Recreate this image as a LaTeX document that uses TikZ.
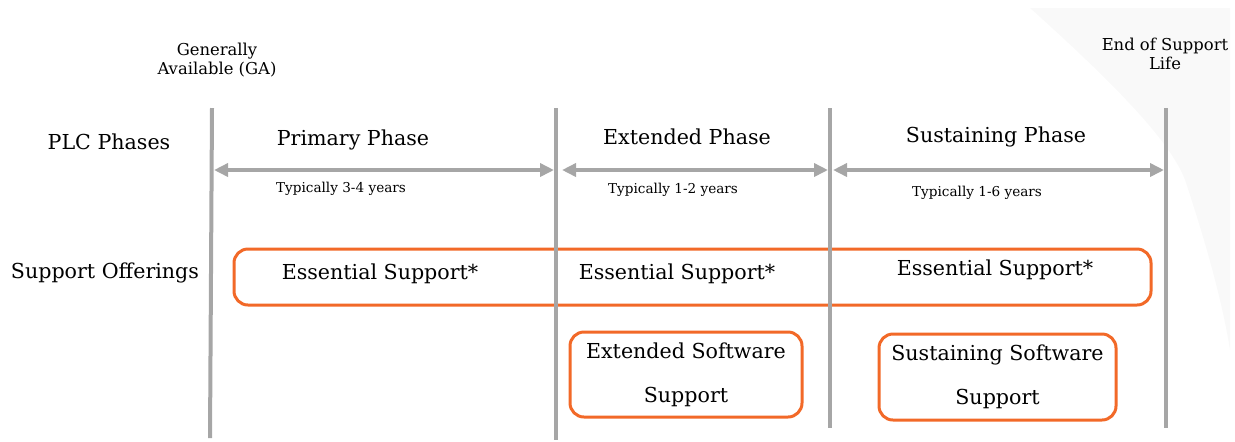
\documentclass[tikz,border=0pt]{standalone}
\usepackage{fontspec}
\setmainfont{DejaVu Serif}
\usepackage{tikz}
\usetikzlibrary{arrows.meta}
\usetikzlibrary{fit}

\definecolor{phasegray}{RGB}{166,166,166}
\definecolor{offerorange}{RGB}{242,105,40}
\definecolor{shadegray}{RGB}{249,249,249}

\tikzset{
	phaseline/.style = {draw=phasegray, line width=2pt},
	phasearrow/.style = {draw=phasegray, line width=2pt,
		{Triangle[length=7pt, width=6.5pt]}-{Triangle[length=7pt, width=6.5pt]}},
	offerbox/.style = {draw=offerorange, line width=1.5pt, rounded corners=7pt,
		fill=white, align=center},
	biglabel/.style = {font=\fontsize{10.3}{12}\selectfont},
	smalllabel/.style = {font=\fontsize{6.8}{8}\selectfont},
	marklabel/.style = {font=\fontsize{8.2}{9.8}\selectfont, align=center}
}

\begin{document}
\begin{tikzpicture}[x=0.5pt, y=-0.5pt]
				\useasboundingbox (0,0) rectangle (1235,441);
				% faint backdrop on the right
				\fill[shadegray] (1030,8) .. controls (1110,80) and (1170,140) .. (1185,180)
					.. controls (1205,240) and (1222,300) .. (1230,350) -- (1230,8) -- cycle;

				\begin{scope}[every node/.style = {marklabel}]
					\node (GA) at (217,60) {Generally\\Available (GA)};
					\node (EOS) at (1165,54) {End of Support\\Life};
				\end{scope}

				\begin{scope}[every node/.style = {biglabel}]
					\node (PLC) at (109,142) {PLC Phases};
					\node (SO) at (105,273) {Support Offerings};
					\node (P1) at (353,140) {Primary Phase};
					\node (P2) at (687,137) {Extended Phase};
					\node (P3) at (996,137) {Sustaining Phase};
				\end{scope}

				\begin{scope}[every node/.style = {smalllabel}]
					\node (Y1) at (341,189) {Typically 3-4 years};
					\node (Y2) at (673,190) {Typically 1-2 years};
					\node (Y3) at (977,193) {Typically 1-6 years};
				\end{scope}

				% support offerings
				\node[offerbox, minimum width=458.5pt, minimum height=28pt] (ES) at (692.5,277) {};
				\begin{scope}[every node/.style = {biglabel}]
					\node (E1) at (380,274) {Essential Support*};
					\node (E2) at (677,274) {Essential Support*};
					\node (E3) at (995,270) {Essential Support*};
				\end{scope}
				\node[offerbox, biglabel, minimum width=116pt, minimum height=42.5pt] (ESS) at (686,374.5)
					{Extended Software\\[10pt]Support};
				\node[offerbox, biglabel, minimum width=118.5pt, minimum height=43pt] (SSS) at (997.5,377)
					{Sustaining Software\\[10pt]Support};

				% phase boundaries
				\coordinate (B1t) at (212,108);  \coordinate (B1b) at (210,438);
				\coordinate (B2t) at (556,108);  \coordinate (B2b) at (556,440);
				\coordinate (B3t) at (830,108);  \coordinate (B3b) at (830,428);
				\coordinate (B4t) at (1166,108); \coordinate (B4b) at (1166,428);
				\draw [phaseline] (B1t) -- (B1b);
				\draw [phaseline] (B2t) -- (B2b);
				\draw [phaseline] (B3t) -- (B3b);
				\draw [phaseline] (B4t) -- (B4b);

				% phase durations
				\coordinate (A1l) at (214,170); \coordinate (A1r) at (554,170);
				\coordinate (A2l) at (562,170); \coordinate (A2r) at (828,170);
				\coordinate (A3l) at (833,170); \coordinate (A3r) at (1164,170);
				\draw [phasearrow] (A1l) -- (A1r);
				\draw [phasearrow] (A2l) -- (A2r);
				\draw [phasearrow] (A3l) -- (A3r);
			\end{tikzpicture}
\end{document}
